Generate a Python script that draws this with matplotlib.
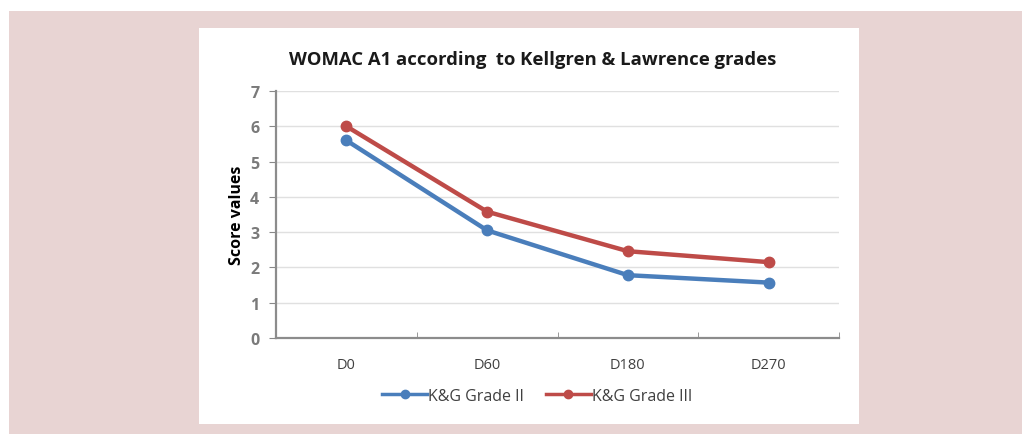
import matplotlib
matplotlib.use("Agg")
import matplotlib.pyplot as plt
from matplotlib.patches import Rectangle
from matplotlib.lines import Line2D

categories = ["D0", "D60", "D180", "D270"]
grade_ii = [5.6, 3.05, 1.78, 1.57]
grade_iii = [6.0, 3.58, 2.46, 2.15]
series_names = ["K&G Grade II", "K&G Grade III"]
title = "WOMAC A1 according  to Kellgren & Lawrence grades"
ylabel = "Score values"

W, H = 1022, 435
plt.rcParams['font.family'] = ['Open Sans', 'DejaVu Sans']

fig = plt.figure(figsize=(W / 100, H / 100), dpi=100)
pink = "#e8d4d3"
fig.patch.set_facecolor(pink)

def px(x0, y0, x1, y1):
    return (x0 / W, 1 - y1 / H, (x1 - x0) / W, (y1 - y0) / H)

# white outer strips (left and top) and white chart panel
for r in [px(-5, -5, 9, H + 5), px(-5, -5, W + 5, 12), px(199, 29, 859, 425)]:
    fig.patches.append(Rectangle((r[0], r[1]), r[2], r[3], transform=fig.transFigure,
                                 facecolor="white", edgecolor="none", zorder=0.5))

ax = fig.add_axes(px(276, 92, 839, 339))
ax.set_zorder(2)
ax.set_facecolor("none")
x = list(range(len(categories)))
blue = "#4a7ebb"
red = "#be4b48"
ax.plot(x, grade_ii, color=blue, lw=3.2, marker="o", ms=7.5, zorder=3)
ax.plot(x, grade_iii, color=red, lw=3.2, marker="o", ms=7.5, zorder=3)

ax.set_xlim(-0.5, len(categories) - 0.5)
ax.set_ylim(0, 7)
ax.set_yticks(range(0, 8))
ax.set_xticks(x)
ax.set_xticklabels(categories)
ax.set_xticks([i + 0.5 for i in range(-1, len(categories))], minor=True)
ax.tick_params(axis="x", which="major", length=0, pad=14, labelsize=10.5, labelcolor="#404040")
ax.tick_params(axis="x", which="minor", length=4, color="#888888", direction="in")
ax.tick_params(axis="y", length=5, color="#888888", direction="out", pad=7, labelsize=11.5,
               labelcolor="#7a7a7a")
for lbl in ax.get_yticklabels():
    lbl.set_fontweight("bold")
ax.grid(axis="y", color="#e0e0e0", lw=1)
ax.set_axisbelow(True)
for s in ["top", "right"]:
    ax.spines[s].set_visible(False)
for s in ["left", "bottom"]:
    ax.spines[s].set_color("#8c8c8c")
    ax.spines[s].set_linewidth(1.6)

ax.set_ylabel(ylabel, fontsize=11.5, fontweight="bold", color="black", labelpad=4)

fig.text(533 / W, 1 - 60 / H, title, ha="center", va="center", fontsize=13.3,
         fontweight="bold", color="#1a1a1a", zorder=3)

handles = [Line2D([], [], color=blue, lw=2.5, marker="o", ms=6),
           Line2D([], [], color=red, lw=2.5, marker="o", ms=6)]
leg = fig.legend(handles, series_names, loc="center", bbox_to_anchor=(537 / W, 1 - 397 / H),
                 ncol=2, frameon=False, fontsize=11.5, handlelength=2.8, handletextpad=0.05,
                 columnspacing=1.4, labelcolor="#404040")
leg.set_zorder(3)

fig.savefig("out.png", dpi=100, facecolor=fig.get_facecolor())
